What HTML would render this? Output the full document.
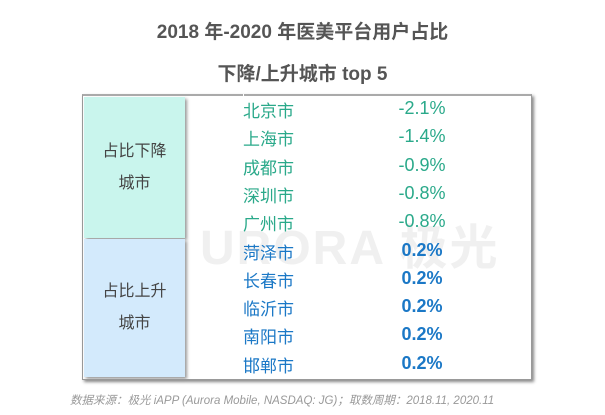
<!DOCTYPE html>
<html><head><meta charset="utf-8"><style>
body{margin:0;width:605px;height:415px;background:#fff;position:relative;overflow:hidden;font-family:"Liberation Sans","Noto Sans CJK SC",sans-serif}
.t{position:absolute;left:0;width:605px;text-align:center;font-weight:bold;color:#555;font-size:19px}
.frame{position:absolute;left:82px;top:94px;width:448px;height:283px;border:1px solid #999;border-top:2px solid #aaa;box-shadow:2px 2px 3px #888}
.box{position:absolute;left:1px;width:101px;box-shadow:2px 2px 3px #999;display:flex;flex-direction:column;justify-content:center;align-items:center;font-size:16px;color:#444;line-height:32px}
.city,.val{position:absolute;font-size:17px}
.city{left:243px}
.val{left:367px;width:110px;text-align:center;font-size:18px}
.g{color:#2aa98a}.b{color:#1b78c6}
.val.b{font-weight:bold}
.wm{position:absolute;left:200px;top:208px;font-size:48px;font-weight:bold;color:#f0f0f0;letter-spacing:2px}
.foot{position:absolute;left:70px;top:392px;font-size:11.5px;font-style:italic;color:#999}
</style></head><body>
<div class="t" style="top:17px">2018 年-2020 年医美平台用户占比</div>
<div class="t" style="top:59px">下降/上升城市 top 5</div>
<div class="wm">URORA 极光</div>
<div class="frame">
<div style="position:absolute;left:160px;top:-2px;width:1px;height:4px;background:#fff"></div>
<div class="box" style="top:1px;height:141px;background:#c9f5ed"><span>占比下降</span><span>城市</span></div>
<div class="box" style="top:143px;height:138px;background:#d3eafc"><span>占比上升</span><span>城市</span></div>
</div>
<div id="rows"></div>
<div class="foot">数据来源：极光 iAPP (Aurora Mobile, NASDAQ: JG)；取数周期：2018.11, 2020.11</div>
<script>
const cities=["北京市","上海市","成都市","深圳市","广州市","菏泽市","长春市","临沂市","南阳市","邯郸市"];
const values=[-2.1,-1.4,-0.9,-0.8,-0.8,0.2,0.2,0.2,0.2,0.2];
const rowsEl=document.getElementById('rows');
cities.forEach((c,i)=>{
  const y=97+i*28.3;
  const cls=values[i]<0?'g':'b';
  const ce=document.createElement('div');
  ce.className='city '+cls;ce.style.top=y+'px';ce.textContent=c;
  
  
  rowsEl.appendChild(ce);
  const ve=document.createElement('div');
  ve.className='val '+cls;ve.style.top=(y+1)+'px';ve.textContent=values[i].toFixed(1)+'%';
  
  
  rowsEl.appendChild(ve);
});
</script>
</body></html>
